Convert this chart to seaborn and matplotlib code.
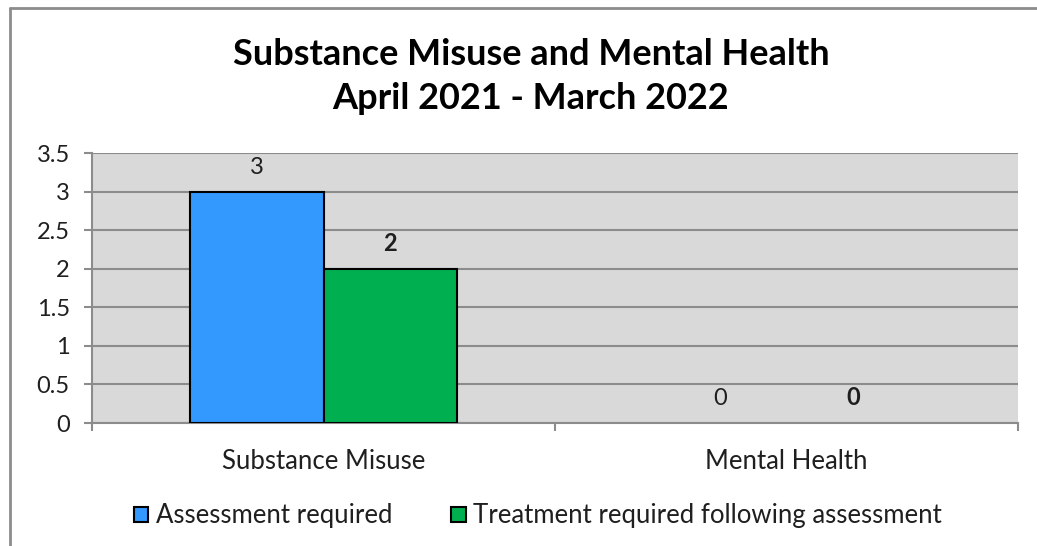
import matplotlib
matplotlib.use("Agg")
import matplotlib.pyplot as plt
import seaborn as sns
import pandas as pd
from matplotlib.lines import Line2D
from matplotlib.patches import Patch

categories = ["Substance Misuse", "Mental Health"]
series_names = ["Assessment required", "Treatment required following assessment"]
assessment = [3, 0]
treatment = [2, 0]
y_ticks = [0, 0.5, 1, 1.5, 2, 2.5, 3, 3.5]
colors = ["#3399FF", "#00B050"]

df = pd.DataFrame({
    "category": categories * 2,
    "series": [series_names[0]] * 2 + [series_names[1]] * 2,
    "value": assessment + treatment,
})

sns.set_style("white")
FONT = ["Lato", "DejaVu Sans"]
plt.rcParams["font.family"] = FONT

fig = plt.figure(figsize=(10.37, 5.46), dpi=100)
ax = fig.add_axes([92/1037, 1-423/546, (1018-92)/1037, (423-153)/546])
ax.set_facecolor("#D9D9D9")

sns.barplot(data=df, x="category", y="value", hue="series", palette=colors,
            saturation=1, width=0.575, edgecolor="black", linewidth=1.5, ax=ax,
            legend=False, zorder=3)

# hide outlines of zero-height bars
for p in ax.patches:
    if p.get_height() == 0:
        p.set_linewidth(0)

TXT = "#1F1F1F"
ax.set_ylim(0, 3.5)
ax.set_xlim(-0.5, 1.5)
ax.set_yticks(y_ticks)
ax.set_yticklabels(["0", "0.5", "1", "1.5", "2", "2.5", "3", "3.5"], fontsize=17, color=TXT)
ax.yaxis.grid(True, color="#8C8C8C", linewidth=1.5, zorder=0)
ax.set_axisbelow(True)
ax.set_xticks([0, 1])
ax.set_xticklabels(categories, fontsize=18.5, color=TXT)
ax.tick_params(axis="x", length=0, pad=19)
ax.tick_params(axis="y", length=6, width=1.5, color="#8C8C8C", left=True, pad=10)
ax.set_xlabel("")
ax.set_ylabel("")
for s in ["top", "right"]:
    ax.spines[s].set_visible(False)
for s in ["left", "bottom"]:
    ax.spines[s].set_color("#8C8C8C")
    ax.spines[s].set_linewidth(1.5)

# category boundary ticks
ax.set_xticks([-0.5, 0.5, 1.5], minor=True)
ax.tick_params(axis="x", which="minor", length=6, width=1.5, color="#8C8C8C", bottom=True)

# data labels
for ci, container in enumerate(ax.containers):
    weight = "normal" if ci == 0 else "bold"
    vals = assessment if ci == 0 else treatment
    ax.bar_label(container, labels=[str(v) for v in vals],
                 padding=10, fontsize=17, fontweight=weight, color=TXT)

fig.suptitle("Substance Misuse and Mental Health\nApril 2021 - March 2022",
             x=531/1037, y=1-38/546, va="top", fontsize=26, fontweight="bold",
             linespacing=1.4, color="black")

handles = [Patch(facecolor=c, edgecolor="black", linewidth=1.5) for c in colors]
fig.legend(handles, series_names, loc="center", bbox_to_anchor=(538/1037, 1-516/546),
           ncol=2, frameon=False, fontsize=18.5, handlelength=0.55, handleheight=0.55,
           handletextpad=0.3, columnspacing=2.3, labelcolor=TXT)

# outer chart border (left and top)
fig.add_artist(Line2D([10/1037, 10/1037], [0, 1-8/546], color="#8C8C8C", linewidth=2,
                      transform=fig.transFigure))
fig.add_artist(Line2D([10/1037, 1], [1-8/546, 1-8/546], color="#8C8C8C", linewidth=2,
                      transform=fig.transFigure))

fig.savefig("out.png", dpi=100, facecolor="white")
